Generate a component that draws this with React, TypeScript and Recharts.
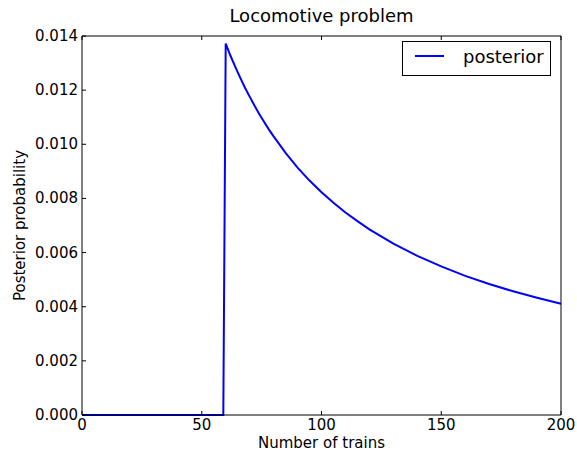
import React from "react"
import { LineChart, Line, XAxis, YAxis } from "recharts"

// number of trains (hypotheses) and posterior probability
const trains = [
  0, 59, 60, 62, 64, 66, 68, 70, 72, 74, 76, 78, 80, 85, 90, 95, 100, 105, 110, 115, 120,
  130, 140, 150, 160, 170, 180, 190, 200,
]
const posterior = [
  0, 0, 0.01372, 0.01327, 0.01286, 0.01247, 0.0121, 0.01176, 0.01143, 0.01112, 0.01083,
  0.01055, 0.01029, 0.00968, 0.00914, 0.00866, 0.00823, 0.00784, 0.00748, 0.00716, 0.00686,
  0.00633, 0.00588, 0.00549, 0.00514, 0.00484, 0.00457, 0.00433, 0.00411,
]
const xTicks = [0, 50, 100, 150, 200]
const yTicks = [0, 0.002, 0.004, 0.006, 0.008, 0.01, 0.012, 0.014]

const data = trains.map((n, i) => ({ n, posterior: posterior[i] }))

const W = 577
const H = 453
const PL = 82
const PR = 561
const PT = 36
const PB = 415
const FONT = "'DejaVu Sans', sans-serif"

const LeftTick = (props: any) => {
  const { y, payload } = props
  return (
    <g>
      <line x1={PL} x2={PL + 4} y1={y} y2={y} stroke="#000" />
      <text x={PL - 4} y={y} dy={5} textAnchor="end" fontSize={15} fontFamily={FONT} fill="#000">
        {payload.value.toFixed(3)}
      </text>
    </g>
  )
}

const RightTick = (props: any) => {
  const { y } = props
  return <line x1={PR - 4} x2={PR} y1={y} y2={y} stroke="#000" />
}

const BottomTick = (props: any) => {
  const { x, payload } = props
  return (
    <g>
      <line x1={x} x2={x} y1={PB} y2={PB - 4} stroke="#000" />
      <text x={x} y={PB + 15} textAnchor="middle" fontSize={15} fontFamily={FONT} fill="#000">
        {payload.value}
      </text>
    </g>
  )
}

const TopTick = (props: any) => {
  const { x } = props
  return <line x1={x} x2={x} y1={PT} y2={PT + 4} stroke="#000" />
}

export default function App() {
  return (
    <div style={{ position: "absolute", left: 0, top: 0, width: W, height: H, background: "#fff" }}>
      <LineChart
        width={W}
        height={H}
        data={data}
        margin={{ top: PT - 1, right: W - PR - 1, bottom: 8, left: 12 }}
      >
        <XAxis
          xAxisId="bottom"
          dataKey="n"
          type="number"
          domain={[0, 200]}
          ticks={xTicks}
          tick={<BottomTick />}
          tickLine={false}
          axisLine={{ stroke: "#000" }}
          height={30}
          interval={0}
        />
        <XAxis
          xAxisId="top"
          orientation="top"
          dataKey="n"
          type="number"
          domain={[0, 200]}
          ticks={xTicks}
          tick={<TopTick />}
          tickLine={false}
          axisLine={{ stroke: "#000" }}
          height={1}
          interval={0}
        />
        <YAxis
          yAxisId="left"
          type="number"
          domain={[0, 0.014]}
          ticks={yTicks}
          tick={<LeftTick />}
          tickLine={false}
          axisLine={{ stroke: "#000" }}
          width={70}
          interval={0}
        />
        <YAxis
          yAxisId="right"
          orientation="right"
          type="number"
          domain={[0, 0.014]}
          ticks={yTicks}
          tick={<RightTick />}
          tickLine={false}
          axisLine={{ stroke: "#000" }}
          width={1}
          interval={0}
        />
        <Line
          xAxisId="bottom"
          yAxisId="left"
          type="linear"
          dataKey="posterior"
          stroke="#0000ff"
          strokeWidth={2}
          dot={false}
          isAnimationActive={false}
        />
        <text x={(PL + PR) / 2} y={22} textAnchor="middle" fontSize={18} fontFamily={FONT} fill="#000">
          Locomotive problem
        </text>
        <text x={(PL + PR) / 2} y={448} textAnchor="middle" fontSize={15} fontFamily={FONT} fill="#000">
          Number of trains
        </text>
        <text
          x={25}
          y={(PT + PB) / 2}
          textAnchor="middle"
          fontSize={15}
          fontFamily={FONT}
          fill="#000"
          transform={`rotate(-90 25 ${(PT + PB) / 2})`}
        >
          Posterior probability
        </text>
      </LineChart>
      <svg width={150} height={36} style={{ position: "absolute", left: 402, top: 41 }}>
        <rect x={0.5} y={0.5} width={148} height={34} fill="#fff" stroke="#000" />
        <line x1={13} x2={42} y1={15} y2={15} stroke="#0000ff" strokeWidth={2} />
        <text x={61} y={22} fontSize={18} fontFamily={FONT} fill="#000">posterior</text>
      </svg>
    </div>
  )
}
